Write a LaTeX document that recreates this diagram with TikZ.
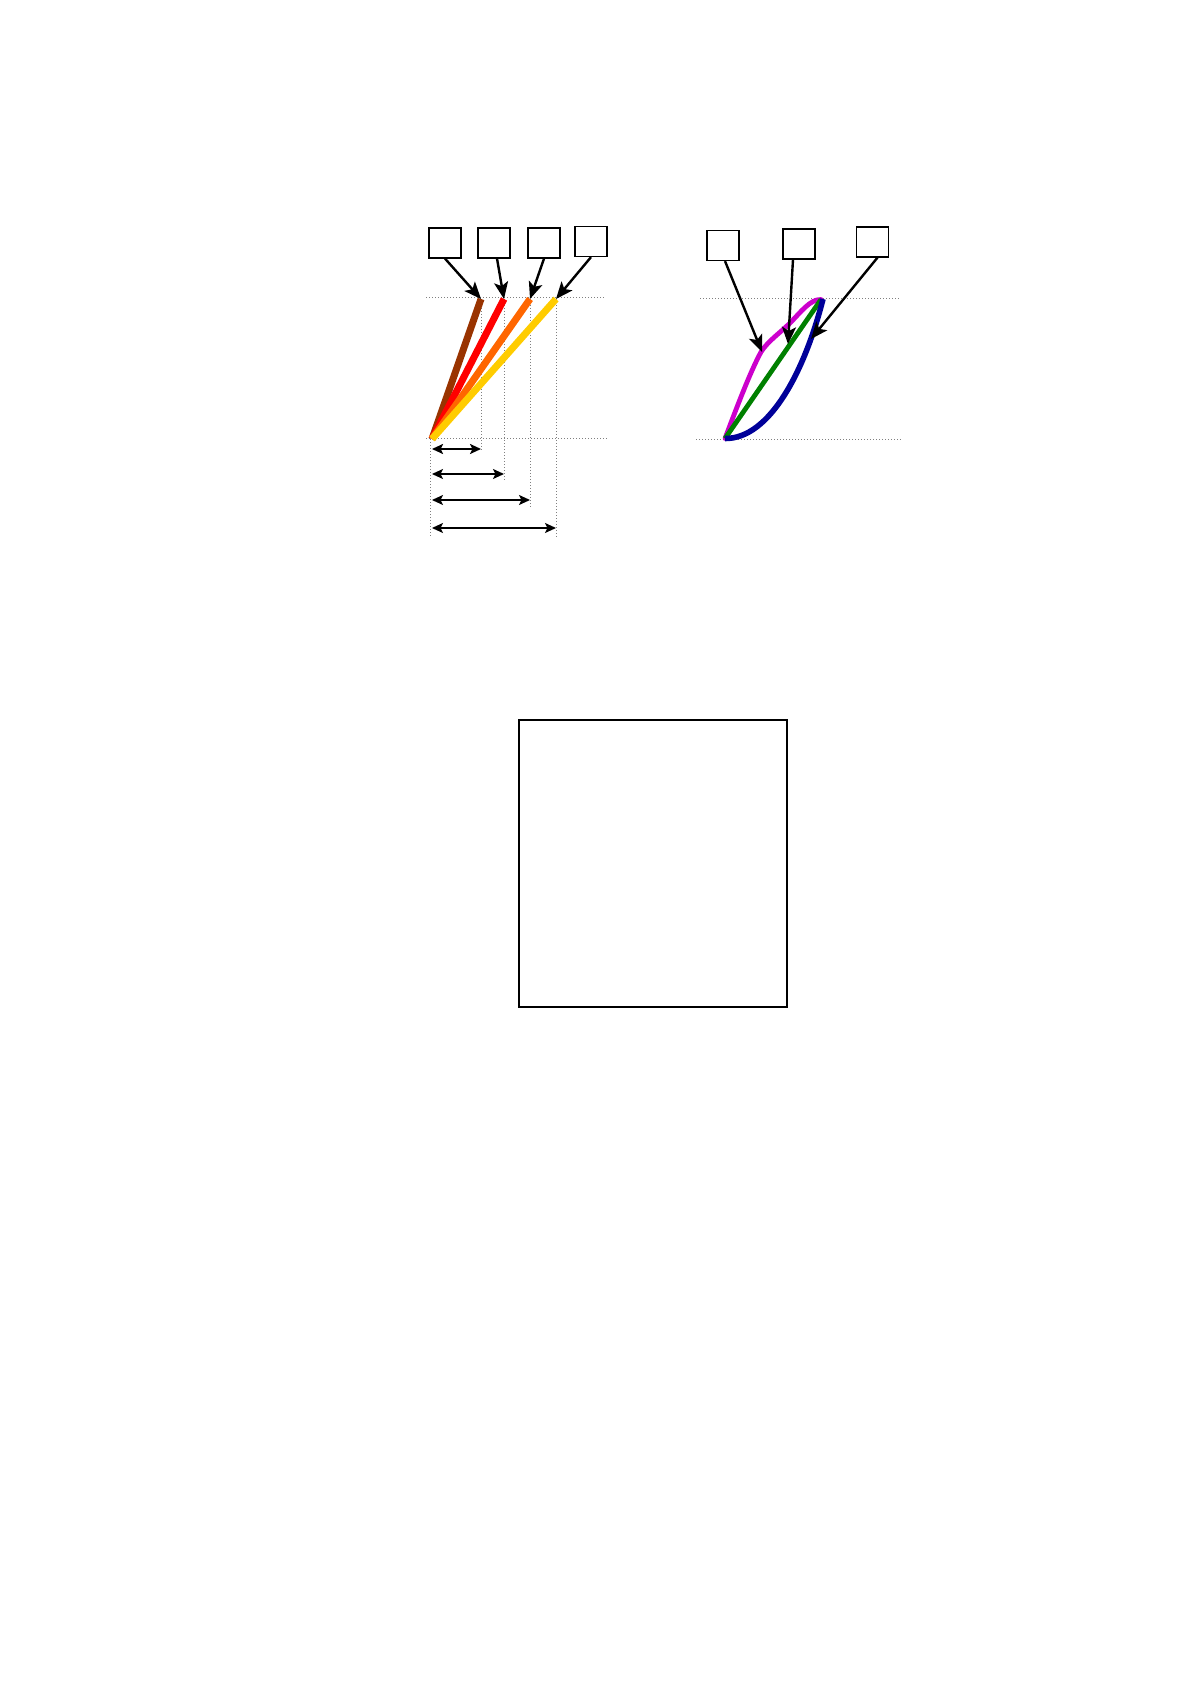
\documentclass[tikz,border=0pt]{standalone}
\usetikzlibrary{arrows.meta}
\definecolor{rustbrown}{RGB}{153, 51, 0}
\definecolor{hotorange}{RGB}{255, 102, 0}
\definecolor{goldyellow}{RGB}{255, 204, 0}
\definecolor{purplepink}{RGB}{204, 0, 204}
\definecolor{leafgreen}{RGB}{0, 128, 0}
\definecolor{inkblue}{RGB}{0, 0, 153}
\tikzstyle{tagbox} = [rectangle, draw=black, minimum width=16pt,
                      minimum height=15pt, inner sep=0pt, line width=0.6pt]
\tikzstyle{pointarrow} = [line width=1.2pt, -{Stealth[length=8.5pt,width=7pt,inset=2pt]}]
\tikzstyle{widtharrow} = [line width=0.8pt, {Stealth[length=5.5pt,width=5pt,inset=1.2pt]}-{Stealth[length=5.5pt,width=5pt,inset=1.2pt]}]
\tikzstyle{guideline} = [gray, densely dotted, line width=0.5pt]
\tikzstyle{slopeline} = [line width=3.5pt]
\tikzstyle{loopline} = [line width=2.4pt]

\begin{document}
\begin{tikzpicture}[x=0.5pt, y=-0.5pt]
        \useasboundingbox (0,0) rectangle (1190,1684);

        %Left panel: base and top of the lines
        \coordinate (O) at (432,439);
        \coordinate (T1) at (481,299);
        \coordinate (T2) at (504,299);
        \coordinate (T3) at (530,299);
        \coordinate (T4) at (556,299);

        %Guide lines
        \draw [guideline] (426,298) -- (606,298);
        \draw [guideline] (426,439) -- (609,439);
        \draw [guideline] (430,439) -- (430,538);
        \draw [guideline] (T1) -- (481,452);
        \draw [guideline] (T2) -- (504,480);
        \draw [guideline] (T3) -- (530,507);
        \draw [guideline] (T4) -- (556,538);

        %Coloured lines
        \draw [slopeline, rustbrown] (O) -- (T1);
        \draw [slopeline, red] (O) -- (T2);
        \draw [slopeline, hotorange] (O) -- (T3);
        \draw [slopeline, goldyellow] (O) -- (T4);

        %Widths
        \draw [widtharrow, line width=1.2pt] (432,449) -- (481,449);
        \draw [widtharrow] (432,474) -- (504,474);
        \draw [widtharrow] (432,500) -- (530,500);
        \draw [widtharrow] (432,528) -- (556,528);

        %Boxes and pointers
        \node (box1) [tagbox] at (445,243) {};
        \node (box2) [tagbox] at (494,243) {};
        \node (box3) [tagbox] at (544,243) {};
        \node (box4) [tagbox] at (591,241.5) {};
        \draw [pointarrow] (box1.south) -- (T1);
        \draw [pointarrow] ([xshift=1.5pt]box2.south) -- (T2);
        \draw [pointarrow] (box3.south) -- (T3);
        \draw [pointarrow] (box4.south) -- (T4);

        %Right panel
        \coordinate (P) at (725,438.5);
        \coordinate (Q) at (821,299.5);
        \draw [guideline] (700,298.5) -- (901,298.5);
        \draw [guideline] (696,439.5) -- (901,439.5);

        \draw [loopline, purplepink, line cap=round] (P) .. controls (735,412) and (750,372) .. (761,352)
              .. controls (768,341) and (780,333) .. (790,323)
              .. controls (800,313) and (810,299) .. (Q);
        \draw [loopline, leafgreen] (P) -- (Q);
        \draw [loopline, inkblue, line width=2.8pt] (P) .. controls (770,439) and (805,370) .. (823,299);
        \coordinate (hitA) at (762,352);
        \coordinate (hitB) at (788,344);
        \coordinate (hitC) at (811,339);

        \node (boxA) [tagbox] at (723,245.5) {};
        \node (boxB) [tagbox] at (799,244) {};
        \node (boxC) [tagbox] at (872.5,242) {};
        \draw [pointarrow] ([xshift=1pt]boxA.south) -- (hitA);
        \draw [pointarrow] ([xshift=-3pt]boxB.south) -- (hitB);
        \draw [pointarrow] ([xshift=2.5pt]boxC.south) -- (hitC);

        %Empty frame below
        \node (frame) [rectangle, draw=black, line width=0.8pt, minimum width=134pt,
               minimum height=143.5pt, inner sep=0pt] at (653,863.5) {};

\end{tikzpicture}
\end{document}
